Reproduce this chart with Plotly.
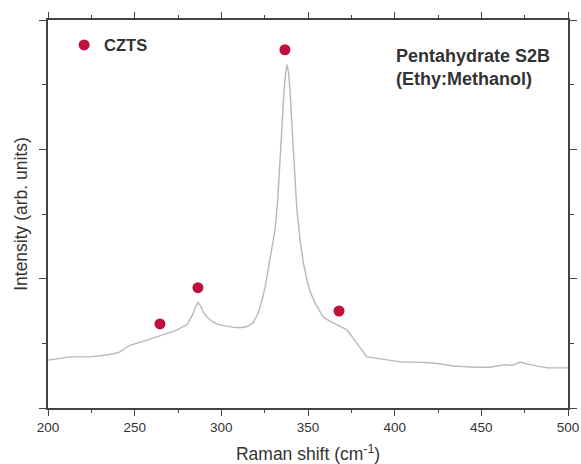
import plotly.graph_objects as go

# Raman spectrum
shift = [200, 212.7, 224, 234, 241, 247.3, 257, 266.3, 274, 280.2, 283, 285, 286.5,
         288, 289.4, 292, 295.2, 298.5, 302, 306, 310.8, 315, 318.3, 321, 323.5, 325.5,
         327, 329, 331, 332.5, 333.8, 335, 336.2, 337.2, 337.9, 338.8, 339.6, 340.7,
         341.9, 343.5, 345.4, 347.3, 349.4, 351.5, 354, 356.5, 358.7, 362, 365.6, 369,
         372.5, 376, 380, 384, 391.5, 398, 404.8, 412, 420.4, 427, 433.7, 440, 446.3,
         455, 463.6, 468, 472.3, 478, 483, 487.9, 494, 500]
intensity = [0.74, 0.79, 0.79, 0.82, 0.86, 0.97, 1.05, 1.13, 1.2, 1.29, 1.42, 1.55, 1.63,
             1.58, 1.49, 1.4, 1.33, 1.29, 1.27, 1.25, 1.24, 1.26, 1.32, 1.45, 1.67, 1.9,
             2.14, 2.42, 2.76, 3.2, 3.84, 4.45, 4.92, 5.2, 5.31, 5.18, 4.92, 4.4,
             3.84, 3.1, 2.6, 2.25, 1.98, 1.78, 1.63, 1.5, 1.41, 1.35, 1.3, 1.26,
             1.21, 1.08, 0.93, 0.79, 0.76, 0.73, 0.71, 0.71, 0.7, 0.68, 0.65, 0.64, 0.63,
             0.63, 0.67, 0.66, 0.71, 0.67, 0.65, 0.62, 0.62, 0.62]

# CZTS peak markers
czts_x = [264.6, 286.5, 336.7, 367.9]
czts_y = [1.30, 1.86, 5.54, 1.50]

x_ticks = [200, 250, 300, 350, 400, 450, 500]

fig = go.Figure()
fig.add_trace(go.Scatter(x=shift, y=intensity, mode="lines",
                         line=dict(color="#b8b8b8", width=1.4),
                         showlegend=False, hoverinfo="skip"))
fig.add_trace(go.Scatter(x=czts_x, y=czts_y, mode="markers", name="<b>CZTS</b>",
                         marker=dict(color="#c0103c", size=11)))

axis_common = dict(showline=True, linecolor="#444444", linewidth=1.5, mirror="ticks",
                   ticks="outside", tickcolor="#444444", showgrid=False, zeroline=False,
                   automargin=False)

fig.update_layout(
    width=581, height=464,
    margin=dict(l=48, r=13, t=20, b=56),
    paper_bgcolor="white", plot_bgcolor="white",
    font=dict(family="Liberation Sans, Arial, sans-serif", size=13, color="#333333"),
    xaxis=dict(range=[200, 500], tickvals=x_ticks, ticklen=6,
               minor=dict(dtick=25, tick0=200, ticklen=3, ticks="outside", tickcolor="#444444"),
               title=dict(text="Raman shift (cm<sup>-1</sup>)", standoff=14,
                          font=dict(size=17.5)),
               tickfont=dict(size=13.5), **axis_common),
    yaxis=dict(range=[0, 6], tick0=0, dtick=2, ticklen=7, showticklabels=False,
               minor=dict(dtick=1, tick0=0, ticklen=4, ticks="outside", tickcolor="#444444"),
               title=dict(text="Intensity (arb. units)", standoff=7, font=dict(size=17.5)),
               **axis_common),
    legend=dict(x=0.031, y=0.98, xanchor="left", yanchor="top", bgcolor="rgba(0,0,0,0)",
                font=dict(size=16.5, color="#333333"), itemwidth=30),
    annotations=[dict(text="<b>Pentahydrate S2B<br>(Ethy:Methanol)</b>", xref="paper", yref="paper",
                      x=0.665, y=0.877, xanchor="left", yanchor="middle", align="left",
                      showarrow=False, font=dict(size=18, color="#333333"))],
)

fig.write_html("out.html", config={"displayModeBar": False},
               post_script="document.body.style.margin='0px';")
